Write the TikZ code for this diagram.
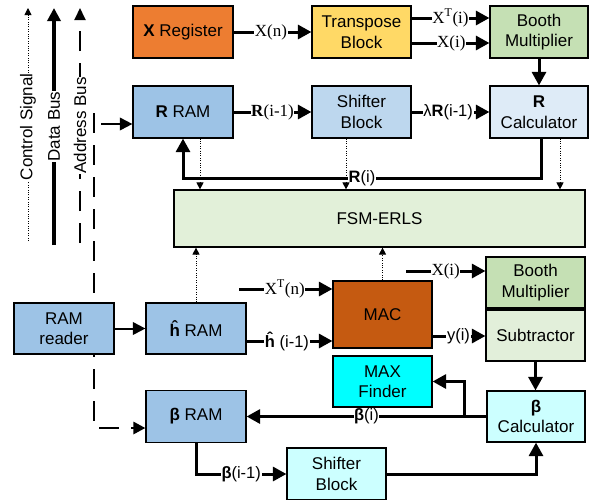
\documentclass[tikz,border=0pt]{standalone}
\usepackage{fontspec}
\setmainfont{Liberation Sans}
\newfontfamily\tms{Liberation Serif}
\usetikzlibrary{arrows.meta}
\definecolor{cXreg}{HTML}{ED7D31}
\definecolor{cTrans}{HTML}{FFD966}
\definecolor{cBooth}{HTML}{C5E0B4}
\definecolor{cRam}{HTML}{9DC3E6}
\definecolor{cShiftA}{HTML}{BDD7EE}
\definecolor{cRcalc}{HTML}{DEEBF7}
\definecolor{cFsm}{HTML}{E2F0D9}
\definecolor{cMac}{HTML}{C55A11}
\definecolor{cMax}{HTML}{00FFFF}
\definecolor{cSub}{HTML}{E2EFDA}
\definecolor{cCyan}{HTML}{CCFFFF}
\begin{document}
\begin{tikzpicture}[x=1pt,y=-1pt,
  box/.style={draw, line width=1.2pt, align=center, inner sep=0pt,
    font=\fontsize{17}{20.5}\selectfont},
  bsz/.style={minimum width=99pt, minimum height=52pt},
  data/.style={line width=3pt, -{Triangle[length=13.5pt,width=14pt]}},
  thinarr/.style={line width=2pt, -{Triangle[length=12.5pt,width=12.5pt]}},
  addr/.style={line width=2.8pt, dash pattern=on 20pt off 12pt, -{Triangle[length=12pt,width=12pt]}},
  ctrl/.style={line width=0.9pt, dash pattern=on 1pt off 1.4pt, -{Triangle[length=7pt,width=7pt]}},
  lbl/.style={fill=white, inner sep=0.6pt, font=\fontsize{16.5}{18}\selectfont},
  tlbl/.style={fill=white, inner sep=0.6pt, font=\tms\fontsize{17}{18}\selectfont},
  leg/.style={fill=white, inner sep=0.5pt, rotate=90, font=\fontsize{17}{19}\selectfont}
]
\useasboundingbox (0,0) rectangle (591,499);

% legend
\coordinate (cs0) at (28,241); \coordinate (cs1) at (28,8);
\coordinate (db0) at (54,245); \coordinate (db1) at (54,8);
\coordinate (ab0) at (80,243); \coordinate (ab1) at (80,8);
\draw[ctrl] (cs0) -- node[leg,pos=.49]{Control Signal} (cs1);
\draw[line width=3.5pt, -{Triangle[length=13pt,width=13pt]}] (db0) -- node[leg,pos=.50]{Data Bus} (db1);
\draw[line width=2pt, dash pattern=on 20pt off 12pt, -{Triangle[length=12pt,width=11pt]}] (ab0) -- node[leg,pos=.50]{Address Bus} (ab1);

% address bus line (behind boxes)
\coordinate (abus) at (94,113);
\node[box,bsz,fill=cRam,minimum width=100pt] (bram) at (196,416.5) {\textbf{β} RAM};
\draw[addr] (abus) |- ([yshift=-11.5pt]bram.west);

% boxes
\node[box,bsz,fill=cXreg,minimum width=100pt] (xreg) at (183,32) {\textbf{X} Register};
\node[box,bsz,fill=cTrans] (trans) at (361.5,32) {Transpose\\Block};
\node[box,bsz,fill=cBooth,minimum width=98pt] (booth1) at (539,32) {Booth\\Multiplier};
\node[box,bsz,fill=cRam,minimum width=100pt] (rram) at (183,112) {\textbf{R} RAM};
\node[box,bsz,fill=cShiftA] (shift1) at (361.5,112) {Shifter\\Block};
\node[box,bsz,fill=cRcalc,minimum width=98pt] (rcalc) at (539,112) {\textbf{R}\\Calculator};
\node[box,fill=cFsm,minimum width=411pt,minimum height=57pt] (fsm) at (379.5,218.5) {FSM-ERLS};
\node[box,bsz,fill=cRam,minimum width=100pt,minimum height=51pt] (reader) at (64,328.5) {RAM\\reader};
\node[box,bsz,fill=cRam,minimum width=100pt,minimum height=51pt] (hram) at (196,328.5) {\textbf{ĥ} RAM};
\node[box,fill=cMac,minimum width=99pt,minimum height=67pt] (mac) at (382.5,314.5) {MAC};
\node[box,bsz,fill=cMax,minimum height=51pt] (maxf) at (382.5,381.5) {MAX\\Finder};
\node[box,bsz,fill=cBooth,minimum height=51pt] (booth2) at (535.5,282.5) {Booth\\Multiplier};
\node[box,bsz,fill=cSub,minimum height=51pt] (sub) at (535.5,335.5) {Subtractor};
\node[box,bsz,fill=cCyan,minimum width=98pt,minimum height=51pt] (bcalc) at (536,416.5) {\textbf{β}\\Calculator};
\node[box,bsz,fill=cCyan] (shift2) at (336.5,474) {Shifter\\Block};

% top connectors
\draw[data] (xreg.east) -- node[tlbl,pos=.48]{X(n)} (trans.west);
\draw[data] ([yshift=14pt]trans.east) -- node[tlbl,pos=.5]{X\textsuperscript{T}(i)} ([yshift=14pt]booth1.west);
\draw[data] ([yshift=-11pt]trans.east) -- node[tlbl,pos=.51]{X(i)} ([yshift=-11pt]booth1.west);
\draw[data] (booth1.south) -- (rcalc.north);
\draw[data] (rram.east) -- node[tlbl,pos=.5]{\textbf{R}(i-1)} (shift1.west);
\draw[data] (shift1.east) -- node[lbl,pos=.47]{λ\textbf{R}(i-1)} (rcalc.west);
\draw[data] ([xshift=2pt]rcalc.south) -- ([xshift=2pt]rcalc.south |- 0,178) -| node[lbl,pos=.25]{\textbf{R}(i)} (rram.south);
\coordinate (rtap) at (101,124);
\draw[thinarr] (rtap) -- (rtap -| rram.west);

% control signals
\draw[ctrl] ([xshift=17pt]rram.south) -- ([xshift=17pt]rram.south |- fsm.north);
\draw[ctrl] ([xshift=-15.5pt]shift1.south) -- ([xshift=-15.5pt]shift1.south |- fsm.north);
\draw[ctrl] ([xshift=21pt]rcalc.south) -- ([xshift=21pt]rcalc.south |- fsm.north);
\draw[ctrl] (hram.north) -- (hram.north |- fsm.south);
\draw[ctrl] (mac.north) -- (mac.north |- fsm.south);

% lower connectors
\draw[thinarr] (reader.east) -- (hram.west);
\coordinate (xtn) at (239,289);
\draw[data] (xtn) -- node[tlbl,pos=.49]{X\textsuperscript{T}(n)} (xtn -| mac.west);
\draw[data] ([yshift=-12.5pt]hram.east) -- node[lbl,pos=.47]{\textbf{ĥ} (i-1)} ([yshift=-12.5pt]hram.east -| mac.west);
\coordinate (xi2) at (406,271);
\draw[data] (xi2) -- node[tlbl,pos=.5]{X(i)} (xi2 -| booth2.west);
\draw[data] ([yshift=-21.5pt]mac.east) -- node[lbl,pos=.49]{y(i)} ([yshift=-21.5pt]mac.east -| sub.west);
\draw[data] (sub.south) -- (sub.south |- bcalc.north);
\draw[data] (bcalc.west) -- node[lbl,pos=.5]{\textbf{β}(i)} (bram.east);
\coordinate (br) at (464,416.5);
\draw[data] (br) |- (maxf.east);
\draw[data] (bram.south) |- node[lbl,pos=.75]{\textbf{β}(i-1)} (shift2.west);
\draw[data] (shift2.east) -| (bcalc.south);
\end{tikzpicture}
\end{document}
